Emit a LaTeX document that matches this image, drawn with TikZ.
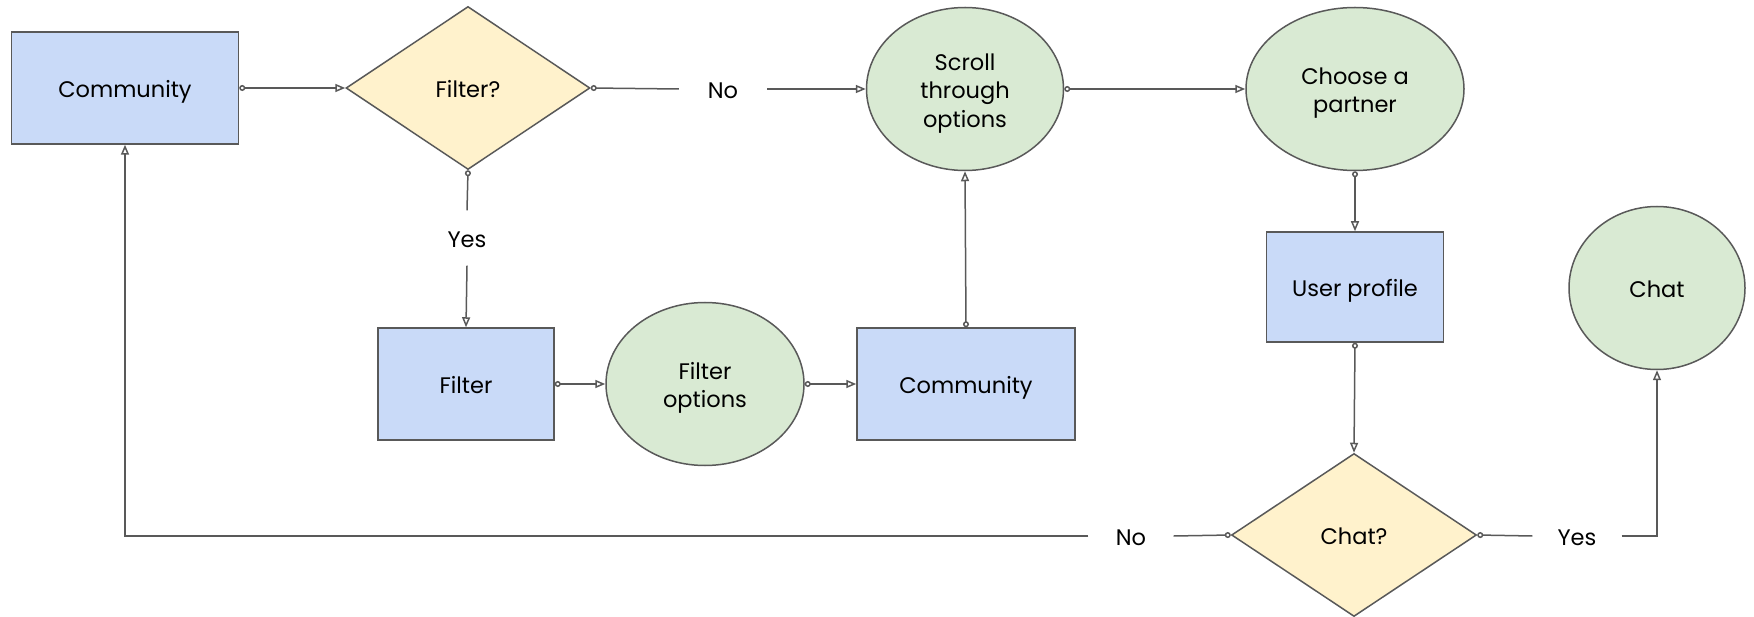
\documentclass[tikz,border=0pt]{standalone}
\usepackage{fontspec}
\setmainfont{Poppins}
\usetikzlibrary{shapes.geometric,arrows.meta}
\definecolor{bfill}{HTML}{C9DAF8}
\definecolor{yfill}{HTML}{FFF2CC}
\definecolor{gfill}{HTML}{D9EAD3}
\definecolor{edge}{HTML}{595959}
\newcommand{\txt}[1]{\raisebox{-4pt}[\height][\depth]{\begin{tabular}{@{}c@{}}#1\end{tabular}}}
\tikzset{
  base/.style={draw=edge,line width=1.5pt,font=\fontsize{22.5}{28.5}\selectfont,inner sep=0pt},
  boxnode/.style={base,rectangle,fill=bfill},
  decnode/.style={base,diamond,fill=yfill},
  ovalnode/.style={base,ellipse,fill=gfill},
  lbl/.style={font=\fontsize{22.5}{28.5}\selectfont,inner sep=0pt},
  conn/.style={draw=edge,line width=1.5pt},
  ar/.style={conn,{Circle[open,length=6pt,width=6pt]}-{Triangle[open,length=10pt,width=8pt]}},
  st/.style={conn,{Circle[open,length=6pt,width=6pt]}-},
  en/.style={conn,-{Triangle[open,length=10pt,width=8pt]}}
}
\begin{document}
\begin{tikzpicture}[x=1pt,y=-1pt]
\useasboundingbox (0,0) rectangle (1754,617);
\node[boxnode,minimum width=227pt,minimum height=112pt] (c1) at (125,88) {\txt{Community}};
\node[decnode,minimum width=244pt,minimum height=163pt] (f1) at (468,88) {\txt{Filter?}};
\node[ovalnode,minimum width=197pt,minimum height=163pt] (scroll) at (965,89) {\txt{Scroll\\through\\options}};
\node[ovalnode,minimum width=218pt,minimum height=163pt] (choose) at (1355,89) {\txt{Choose a\\partner}};
\node[boxnode,minimum width=177pt,minimum height=110pt] (user) at (1355,287) {\txt{User profile}};
\node[ovalnode,minimum width=176pt,minimum height=163pt] (chat) at (1657,288) {\txt{Chat}};
\node[decnode,minimum width=245pt,minimum height=163pt] (chatq) at (1354,535) {\txt{Chat?}};
\node[boxnode,minimum width=176pt,minimum height=112pt] (filter) at (466,384) {\txt{Filter}};
\node[ovalnode,minimum width=198pt,minimum height=163pt] (fopt) at (705,384) {\txt{Filter\\options}};
\node[boxnode,minimum width=218pt,minimum height=112pt] (c2) at (966,384) {\txt{Community}};
\node[lbl,minimum width=88pt] (no1) at (723,89) {\txt{No}};
\node[lbl,minimum height=55pt] (yes1) at (467,238) {\txt{Yes}};
\node[lbl,minimum width=85pt] (no2) at (1131,536) {\txt{No}};
\node[lbl,minimum width=89pt] (yes2) at (1577,536) {\txt{Yes}};
\draw[ar] (c1.east) -- (f1.west);
\draw[st] (f1.east) -- (no1.west);
\draw[en] (no1.east) -- (scroll.west);
\draw[st] (f1.south) -- (yes1.north);
\draw[en] (yes1.south) -- (filter.north);
\draw[ar] (filter.east) -- (fopt.west);
\draw[ar] (fopt.east) -- (c2.west);
\draw[ar] (c2.north) -- (scroll.south);
\draw[ar] (scroll.east) -- (choose.west);
\draw[ar] (choose.south) -- (user.north);
\draw[ar] (user.south) -- (chatq.north);
\draw[st] (chatq.west) -- (no2.east);
\draw[en] (no2.west) -- (c1.south |- no2.west) -- (c1.south);
\draw[st] (chatq.east) -- (yes2.west);
\draw[en] (yes2.east) -| (chat.south);
\end{tikzpicture}
\end{document}
